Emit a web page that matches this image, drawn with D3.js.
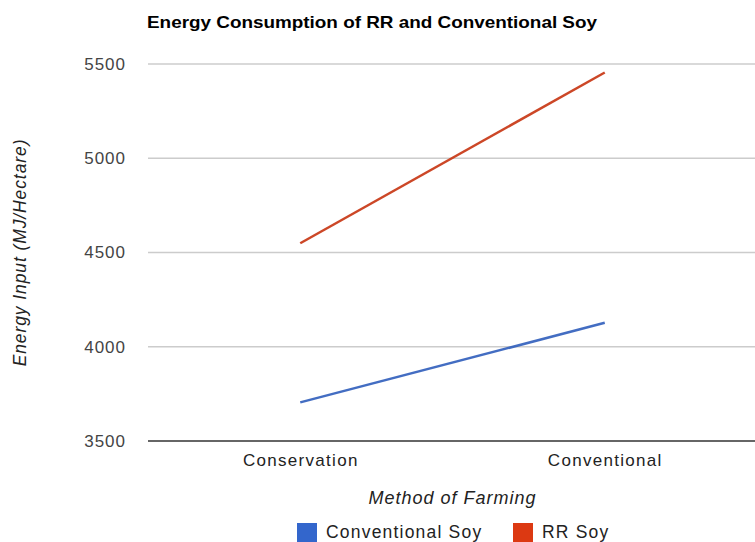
<!DOCTYPE html>
<html><head><meta charset="utf-8">
<script src="https://cdn.jsdelivr.net/npm/d3@7"></script>
<style>body{margin:0;background:#fff}svg{display:block}text{font-family:"Liberation Sans",Arial,sans-serif}</style>
</head><body><svg id="c" width="755" height="542"></svg>
<script>
const categories = ["Conservation", "Conventional"];
const seriesNames = ["Conventional Soy", "RR Soy"];
const conventionalSoy = [3705, 4127];
const rrSoy = [4549, 5455];
const yTicks = [3500, 4000, 4500, 5000, 5500];
const colors = ["#3366cc", "#dc3912"];

const svg = d3.select("#c");
const pLeft = 148, pRight = 757, pTop = 64, pBottom = 441;
const x = d3.scalePoint().domain(categories).range([pLeft, pRight]).padding(0.5);
const y = d3.scaleLinear().domain([3500, 5500]).range([pBottom, pTop]);

// gridlines
svg.append("g").selectAll("line").data(yTicks.slice(1)).join("line")
  .attr("x1", pLeft).attr("x2", 755).attr("y1", d => y(d)).attr("y2", d => y(d))
  .attr("stroke", "#cccccc").attr("stroke-width", 1.3);
// baseline
svg.append("line").attr("x1", pLeft).attr("x2", 755).attr("y1", y(3500)).attr("y2", y(3500))
  .attr("stroke", "#333").attr("stroke-width", 1.5);

// y tick labels
const yAxis = d3.axisLeft(y).tickValues(yTicks).tickFormat(d3.format("d")).tickSize(0).tickPadding(22);
const gy = svg.append("g").attr("transform", `translate(${pLeft},0)`).call(yAxis);
gy.select(".domain").remove();
gy.selectAll("text").attr("font-size", 17).attr("fill", "#444").style("letter-spacing", "1px")
  .attr("font-family", "Liberation Sans, Arial, sans-serif");

// x labels
const xAxis = d3.axisBottom(x).tickSize(0).tickPadding(13);
const gx = svg.append("g").attr("transform", `translate(0,${pBottom})`).call(xAxis);
gx.select(".domain").remove();
gx.selectAll("text").attr("font-size", 17).attr("fill", "#222").style("letter-spacing", "1.3px")
  .attr("font-family", "Liberation Sans, Arial, sans-serif");

// lines
const line = d3.line().x((d, i) => x(categories[i])).y(d => y(d));
const lineColors = [d3.color(colors[0]).darker(0.25), d3.color(colors[1]).darker(0.3)];
[conventionalSoy, rrSoy].forEach((s, k) => {
  svg.append("path").datum(s).attr("d", line).attr("fill", "none")
    .attr("stroke", lineColors[k]).attr("stroke-width", 2.5).attr("stroke-opacity", 0.9);
});

// title
svg.append("text").attr("x", 147).attr("y", 28).attr("font-size", 16.5).attr("font-weight", "bold")
  .attr("fill", "#000").attr("textLength", 450).attr("lengthAdjust", "spacingAndGlyphs")
  .text("Energy Consumption of RR and Conventional Soy");

// axis titles
svg.append("text").attr("x", (pLeft + pRight) / 2).attr("y", 504).attr("text-anchor", "middle")
  .attr("font-size", 18).attr("font-style", "italic").attr("fill", "#222").style("letter-spacing", "1px")
  .text("Method of Farming");
svg.append("text").attr("transform", `translate(26,${(pTop + pBottom) / 2}) rotate(-90)`)
  .attr("text-anchor", "middle").attr("font-size", 17.5).attr("font-style", "italic").attr("fill", "#222")
  .style("letter-spacing", "0.9px").text("Energy Input (MJ/Hectare)");

// legend
const legendX = [297, 513];
const lg = svg.append("g").selectAll("g").data(seriesNames).join("g")
  .attr("transform", (d, i) => `translate(${legendX[i]},523)`);
lg.append("rect").attr("width", 20).attr("height", 20).attr("fill", (d, i) => colors[i]);
lg.append("text").attr("x", 29).attr("y", 15).attr("font-size", 17.5).attr("fill", "#222")
  .style("letter-spacing", "1.2px").text(d => d);
</script></body></html>
